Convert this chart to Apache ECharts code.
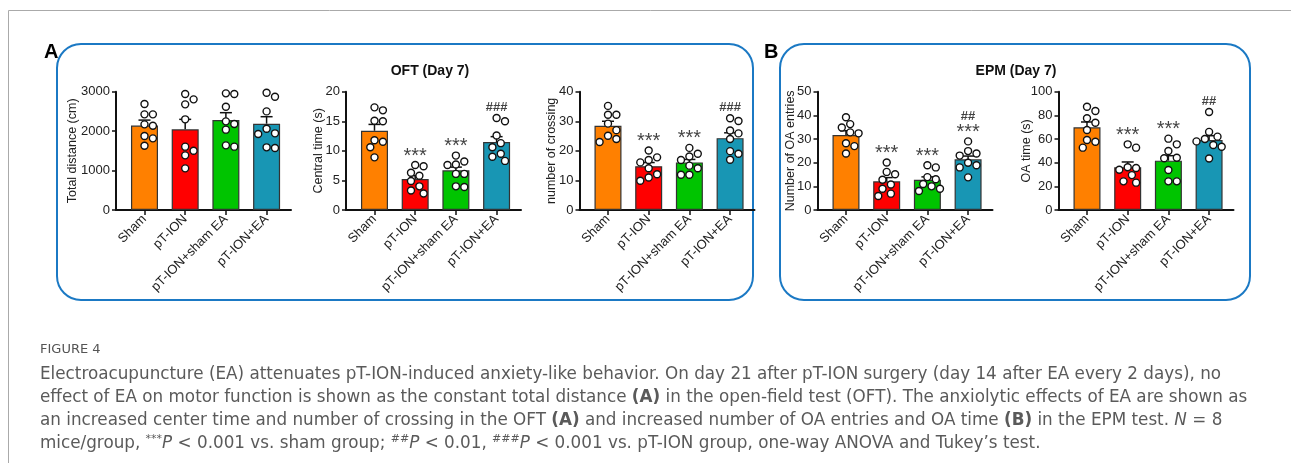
<!DOCTYPE html>
<html><head><meta charset="utf-8">
<script src="https://cdn.jsdelivr.net/npm/echarts@6/dist/echarts.min.js"></script>
<style>html,body{margin:0;padding:0;background:#fff}#c{width:1291px;height:463px}</style>
</head><body><div id="c"></div>
<script>
// ---------- data ----------
const categories = ['Sham', 'pT-ION', 'pT-ION+sham EA', 'pT-ION+EA'];

const distMean = [2140, 2045, 2282, 2189];
const distSem = [140, 254, 186, 177];
const distPoints = [
  [2687, 2425, 2425, 2172, 2138, 1876, 1817, 1631],
  [2941, 2806, 2679, 2299, 1606, 1504, 1386, 1056],
  [2958, 2941, 2620, 2248, 2180, 2037, 1639, 1606],
  [2975, 2873, 2501, 2062, 1944, 1927, 1589, 1572]];
const distMarks = ['', '', '', ''];

const ctMean = [13.4, 5.25, 6.7, 11.5];
const ctSem = [1.07, 0.56, 0.55, 0.9];
const ctPoints = [
  [17.35, 16.85, 15.1, 15.0, 11.8, 11.55, 10.6, 8.9],
  [7.6, 7.4, 6.3, 5.8, 4.9, 4.0, 3.3, 2.8],
  [9.2, 8.2, 7.7, 7.6, 6.1, 6.1, 4.0, 3.9],
  [15.55, 15.0, 12.6, 11.3, 10.6, 9.5, 9.0, 8.3]];
const ctMarks = ['', '***', '***', '###'];

const crMean = [28.5, 14.8, 16.1, 24.3];
const crSem = [1.5, 1.25, 1.0, 1.8];
const crPoints = [
  [35.2, 32.2, 32.2, 29.2, 27.0, 25.1, 24.0, 23.0],
  [20.1, 17.8, 16.9, 16.1, 14.1, 12.1, 11.0, 9.9],
  [21.0, 19.0, 18.1, 16.9, 15.0, 14.1, 11.9, 11.9],
  [31.0, 30.1, 26.9, 25.9, 24.0, 19.9, 19.0, 17.0]];
const crMarks = ['', '***', '***', '###'];

const oaMean = [31.7, 12.1, 12.8, 21.4];
const oaSem = [1.8, 1.6, 1.2, 1.4];
const oaPoints = [
  [39.2, 36.3, 34.9, 32.8, 32.4, 28.2, 27.0, 23.9],
  [20.1, 16.1, 15.1, 12.8, 10.8, 9.0, 6.9, 5.9],
  [18.9, 18.0, 13.9, 13.0, 11.0, 10.0, 9.0, 8.0],
  [29.0, 24.9, 23.9, 23.0, 20.0, 18.9, 18.0, 13.8]];
const oaMarks = ['', '***', '***', '##\n***'];

const otMean = [69.9, 36.1, 41.7, 59.2];
const otSem = [4.5, 4.5, 4.2, 3.6];
const otPoints = [
  [87.3, 83.7, 77.5, 73.8, 67.6, 59.2, 57.7, 52.7],
  [55.5, 52.7, 36.1, 35.5, 34.0, 29.5, 24.2, 23.1],
  [60.3, 55.5, 49.9, 44.2, 43.7, 33.8, 24.2, 24.2],
  [82.8, 66.0, 62.0, 60.0, 58.0, 55.0, 53.5, 43.5]];
const otMarks = ['', '***', '***', '##'];

const yNames = ['Total distance (cm)', 'Central time (s)', 'number of crossing', 'Number of OA entries', 'OA time (s)'];
const yMax = [3000, 20, 40, 50, 100];
const yStep = [1000, 5, 10, 10, 20];

// ---------- layout / style ----------
const barColors = ['#FF8000', '#FF0000', '#00C400', '#1896B4'];
const FONT = '"Liberation Sans", Arial, sans-serif';
const GRID_TOP = 91.7, GRID_H = 118.3, XMIN = -0.7, XMAX = 3.6, CAT_PX = 40.7;
const gridLefts = [116, 346, 579.5, 817.5, 1058.5];
const nameGaps = [37, 21, 21.5, 20.5, 25];

const panelData = [
  [distMean, distSem, distPoints, distMarks],
  [ctMean, ctSem, ctPoints, ctMarks],
  [crMean, crSem, crPoints, crMarks],
  [oaMean, oaSem, oaPoints, oaMarks],
  [otMean, otSem, otPoints, otMarks]];

function swarm(vals, ci, max) {
  const pxY = GRID_H / max, d = 8, s = 4.2;
  const order = vals.map((v, i) => i).sort((a, b) => vals[b] - vals[a]);
  const placed = [], out = [];
  order.forEach(i => {
    const y = vals[i] * pxY;
    for (let k = 0; k < 30; k++) {
      const off = k === 0 ? 0 : (k % 2 ? 1 : -1) * Math.ceil(k / 2) * s;
      if (placed.every(p => (p.x - off) ** 2 + (p.y - y) ** 2 >= d * d)) {
        placed.push({ x: off, y });
        out.push([ci + off / CAT_PX, vals[i]]);
        break;
      }
    }
  });
  return out;
}

const grids = [], xAxes = [], yAxes = [], series = [];
panelData.forEach(([mean, sem, pts, marks], i) => {
  grids.push({ left: gridLefts[i], top: GRID_TOP, width: (XMAX - XMIN) * CAT_PX, height: GRID_H });
  xAxes.push({
    gridIndex: i, type: 'value', min: XMIN, max: XMAX, splitLine: { show: false },
    axisLine: { show: true, onZero: false, lineStyle: { color: '#111', width: 2 } },
    axisTick: { show: true, customValues: [0, 1, 2, 3], length: 5, lineStyle: { color: '#111', width: 1.5 } },
    axisLabel: { customValues: [0, 1, 2, 3], formatter: v => categories[Math.round(v)], rotate: 45,
      fontSize: 13, color: '#222', fontFamily: FONT, margin: 7 }
  });
  yAxes.push({
    gridIndex: i, type: 'value', min: 0, max: yMax[i], interval: yStep[i], splitLine: { show: false },
    axisLine: { show: true, onZero: false, lineStyle: { color: '#111', width: 2 } },
    axisTick: { show: true, length: 4, lineStyle: { color: '#111', width: 1.5 } },
    axisLabel: { fontSize: 13, color: '#222', fontFamily: FONT, margin: 6, formatter: v => String(v) },
    name: yNames[i], nameLocation: 'middle', nameGap: nameGaps[i], nameMoveOverlap: false,
    nameTextStyle: { fontSize: 12.5, color: '#222', fontFamily: FONT }
  });
  series.push({
    type: 'bar', xAxisIndex: i, yAxisIndex: i, barWidth: 27, z: 2,
    itemStyle: { borderColor: '#333', borderWidth: 1.2 },
    data: mean.map((m, c) => ({ value: [c, m], itemStyle: { color: barColors[c] } }))
  });
  series.push({
    type: 'custom', xAxisIndex: i, yAxisIndex: i, z: 3,
    encode: { x: 0, y: 1 },
    data: mean.map((m, c) => [c, m, sem[c]]),
    renderItem: (params, api) => {
      const x = api.value(0), m = api.value(1), e = api.value(2);
      const p0 = api.coord([x, m]), p1 = api.coord([x, m + e]);
      const style = { stroke: '#111', lineWidth: 1.5 };
      return { type: 'group', children: [
        { type: 'line', shape: { x1: p0[0], y1: p0[1], x2: p1[0], y2: p1[1] }, style },
        { type: 'line', shape: { x1: p1[0] - 6, y1: p1[1], x2: p1[0] + 6, y2: p1[1] }, style }] };
    }
  });
  series.push({
    type: 'scatter', xAxisIndex: i, yAxisIndex: i, z: 4, symbolSize: 7,
    itemStyle: { color: '#fff', borderColor: '#111', borderWidth: 1.4, opacity: 1 },
    data: pts.flatMap((vals, c) => swarm(vals, c, yMax[i]))
  });
  series.push({
    type: 'scatter', xAxisIndex: i, yAxisIndex: i, z: 5, symbolSize: 0, silent: true,
    data: marks.map((t, c) => ({ value: [c, Math.max(...pts[c])], mark: t })),
    label: {
      show: true, position: 'top', distance: 0, color: '#111', fontFamily: FONT,
      formatter: p => {
        const t = p.data.mark;
        if (!t) return '';
        if (t.indexOf('\n') >= 0) { const [a, b] = t.split('\n'); return '{h2|' + a + '}\n{s|' + b + '}'; }
        return t[0] === '#' ? '{h|' + t + '}' : '{s|' + t + '}';
      },
      rich: {
        s: { fontSize: 20, lineHeight: 18, fontFamily: FONT, color: '#111', padding: [0, 0, 0, 0] },
        h: { fontSize: 13, fontWeight: 'bold', lineHeight: 14, fontFamily: FONT, color: '#111', padding: [0, 0, 7, 0] },
        h2: { fontSize: 13, fontWeight: 'bold', lineHeight: 14, fontFamily: FONT, color: '#111' }
      }
    }
  });
});

const CAP = '"DejaVu Sans", "Noto Sans", sans-serif';
const CAP_FS = 16.8;
const capStyle = { fontSize: CAP_FS, fontFamily: CAP, fill: '#5a5a5a' };
const capRich = {
  b: { fontWeight: 'bold', fontSize: CAP_FS, fontFamily: CAP, color: '#444' },
  i: { fontStyle: 'italic', fontSize: CAP_FS, fontFamily: CAP, color: '#5a5a5a' },
  sup: { fontSize: 11, fontFamily: CAP, color: '#5a5a5a', verticalAlign: 'top', lineHeight: 21 }
};
const captionLines = [
  'Electroacupuncture (EA) attenuates pT-ION-induced anxiety-like behavior. On day 21 after pT-ION surgery (day 14 after EA every 2 days), no',
  'effect of EA on motor function is shown as the constant total distance {b|(A)} in the open-field test (OFT). The anxiolytic effects of EA are shown as',
  'an increased center time and number of crossing in the OFT {b|(A)} and increased number of OA entries and OA time {b|(B)} in the EPM test. {i|N} = 8',
  'mice/group, {sup|***}{i|P} < 0.001 vs. sham group; {sup|##}{i|P} < 0.01, {sup|###}{i|P} < 0.001 vs. pT-ION group, one-way ANOVA and Tukey\u2019s test.'
];
const graphics = [
  { type: 'rect', shape: { x: 8.5, y: 10.5, width: 1400, height: 600 }, style: { fill: 'none', stroke: '#aaa', lineWidth: 1 }, silent: true },
  { type: 'rect', shape: { x: 57, y: 44, width: 696, height: 256, r: 24 }, style: { fill: 'none', stroke: '#1B79C4', lineWidth: 2 }, silent: true },
  { type: 'rect', shape: { x: 780, y: 44, width: 470, height: 256, r: 24 }, style: { fill: 'none', stroke: '#1B79C4', lineWidth: 2 }, silent: true },
  { type: 'text', x: 44, y: 42, style: { text: 'A', font: 'bold 20px ' + FONT, fill: '#000' } },
  { type: 'text', x: 764, y: 42, style: { text: 'B', font: 'bold 20px ' + FONT, fill: '#000' } },
  { type: 'text', x: 430, y: 71, style: { text: 'OFT (Day 7)', font: 'bold 14px ' + FONT, fill: '#111', align: 'center', verticalAlign: 'middle' } },
  { type: 'text', x: 1016, y: 71, style: { text: 'EPM (Day 7)', font: 'bold 14px ' + FONT, fill: '#111', align: 'center', verticalAlign: 'middle' } },
  { type: 'text', x: 40, y: 350, style: { text: 'FIGURE 4', font: '13px ' + CAP, fill: '#555', verticalAlign: 'middle' } }
];
captionLines.forEach((t, k) => {
  graphics.push({ type: 'text', x: 40, y: 375 + k * 23,
    style: Object.assign({ text: t, rich: capRich, verticalAlign: 'middle', lineHeight: 21 }, capStyle) });
});

const chart = echarts.init(document.getElementById('c'), null, { renderer: 'canvas' });
chart.setOption({
  animation: false, backgroundColor: '#fff',
  grid: grids, xAxis: xAxes, yAxis: yAxes, series, graphic: graphics
});
</script></body></html>
